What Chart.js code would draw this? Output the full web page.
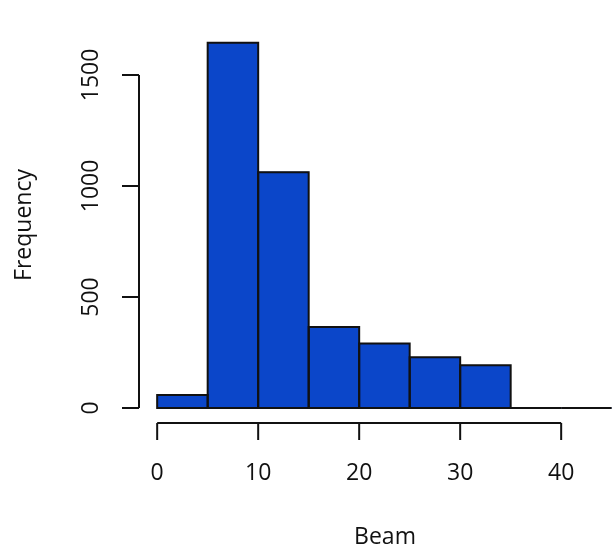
<!DOCTYPE html>
<html>
<head>
<meta charset="utf-8">
<script src="https://cdn.jsdelivr.net/npm/chart.js@4/dist/chart.umd.min.js"></script>
<style>
html,body{margin:0;padding:0;background:#fff;}
canvas{display:block;}
</style>
</head>
<body>
<canvas id="c" width="615" height="554"></canvas>
<script>
// Histogram bin edges and counts
const breaks = [0, 5, 10, 15, 20, 25, 30, 35, 40, 45];
const counts = [58, 1645, 1062, 365, 291, 228, 192, 0, 0];
const xTicks = [0, 10, 20, 30, 40];
const yTicks = [0, 500, 1000, 1500];
const xTitle = "Beam";
const yTitle = "Frequency";

const barFill = "rgb(11,70,201)";
const ink = "#111";
const font = "23px 'Open Sans', sans-serif";

const points = counts.map((c, i) => ({ x: (breaks[i] + breaks[i + 1]) / 2, y: c }));

const rAxes = {
  id: 'rAxes',
  afterDatasetsDraw(chart) {
    const ctx = chart.ctx;
    const xs = chart.scales.x, ys = chart.scales.y;
    const meta = chart.getDatasetMeta(0);
    ctx.save();
    ctx.strokeStyle = ink;
    ctx.lineWidth = 2;
    // bar outlines
    meta.data.forEach((el, i) => {
      const x0 = xs.getPixelForValue(breaks[i]);
      const x1 = xs.getPixelForValue(breaks[i + 1]);
      const yb = ys.getPixelForValue(0);
      const yt = ys.getPixelForValue(counts[i]);
      ctx.beginPath();
      if (counts[i] === 0) {
        ctx.moveTo(x0, yb); ctx.lineTo(x1, yb);
      } else {
        ctx.rect(x0, yt, x1 - x0, yb - yt);
      }
      ctx.stroke();
    });
    ctx.restore();
  },
  afterDraw(chart) {
    const ctx = chart.ctx;
    const xs = chart.scales.x, ys = chart.scales.y;
    const ca = chart.chartArea;
    ctx.save();
    ctx.strokeStyle = ink;
    ctx.fillStyle = ink;
    ctx.lineWidth = 2;
    ctx.lineCap = 'butt';
    // x axis
    const xa = ca.bottom;
    ctx.beginPath();
    ctx.moveTo(xs.getPixelForValue(xTicks[0]), xa);
    ctx.lineTo(xs.getPixelForValue(xTicks[xTicks.length - 1]), xa);
    xTicks.forEach(v => {
      const p = xs.getPixelForValue(v);
      ctx.moveTo(p, xa); ctx.lineTo(p, xa + 17);
    });
    ctx.stroke();
    ctx.font = font;
    ctx.textAlign = 'center';
    ctx.textBaseline = 'middle';
    xTicks.forEach(v => {
      ctx.fillText(String(v), xs.getPixelForValue(v), xa + 50);
    });
    // y axis
    const ya = ca.left;
    ctx.beginPath();
    ctx.moveTo(ya, ys.getPixelForValue(yTicks[0]));
    ctx.lineTo(ya, ys.getPixelForValue(yTicks[yTicks.length - 1]));
    yTicks.forEach(v => {
      const p = ys.getPixelForValue(v);
      ctx.moveTo(ya, p); ctx.lineTo(ya - 17, p);
    });
    ctx.stroke();
    yTicks.forEach(v => {
      const p = ys.getPixelForValue(v);
      ctx.save();
      ctx.translate(ya - 48, p);
      ctx.rotate(-Math.PI / 2);
      ctx.fillText(String(v), 0, 0);
      ctx.restore();
    });
    // titles
    ctx.fillText(xTitle, 385, 537);
    ctx.save();
    ctx.translate(24, (ca.top + ca.bottom) / 2);
    ctx.rotate(-Math.PI / 2);
    ctx.fillText(yTitle, 0, 0);
    ctx.restore();
    ctx.restore();
  }
};

new Chart(document.getElementById('c'), {
  type: 'bar',
  data: {
    datasets: [{
      label: 'Beam',
      data: points,
      backgroundColor: barFill,
      borderWidth: 0,
      barPercentage: 1,
      categoryPercentage: 1
    }]
  },
  options: {
    responsive: false,
    animation: false,
    devicePixelRatio: 1,
    layout: { padding: { left: 139, right: 0, top: 27, bottom: 131 } },
    plugins: { legend: { display: false }, tooltip: { enabled: false } },
    scales: {
      x: { type: 'linear', min: -1.8, max: 45.33, display: false, offset: false },
      y: { min: -67.6, max: 1716, display: false }
    }
  },
  plugins: [rAxes]
});
</script>
</body>
</html>
